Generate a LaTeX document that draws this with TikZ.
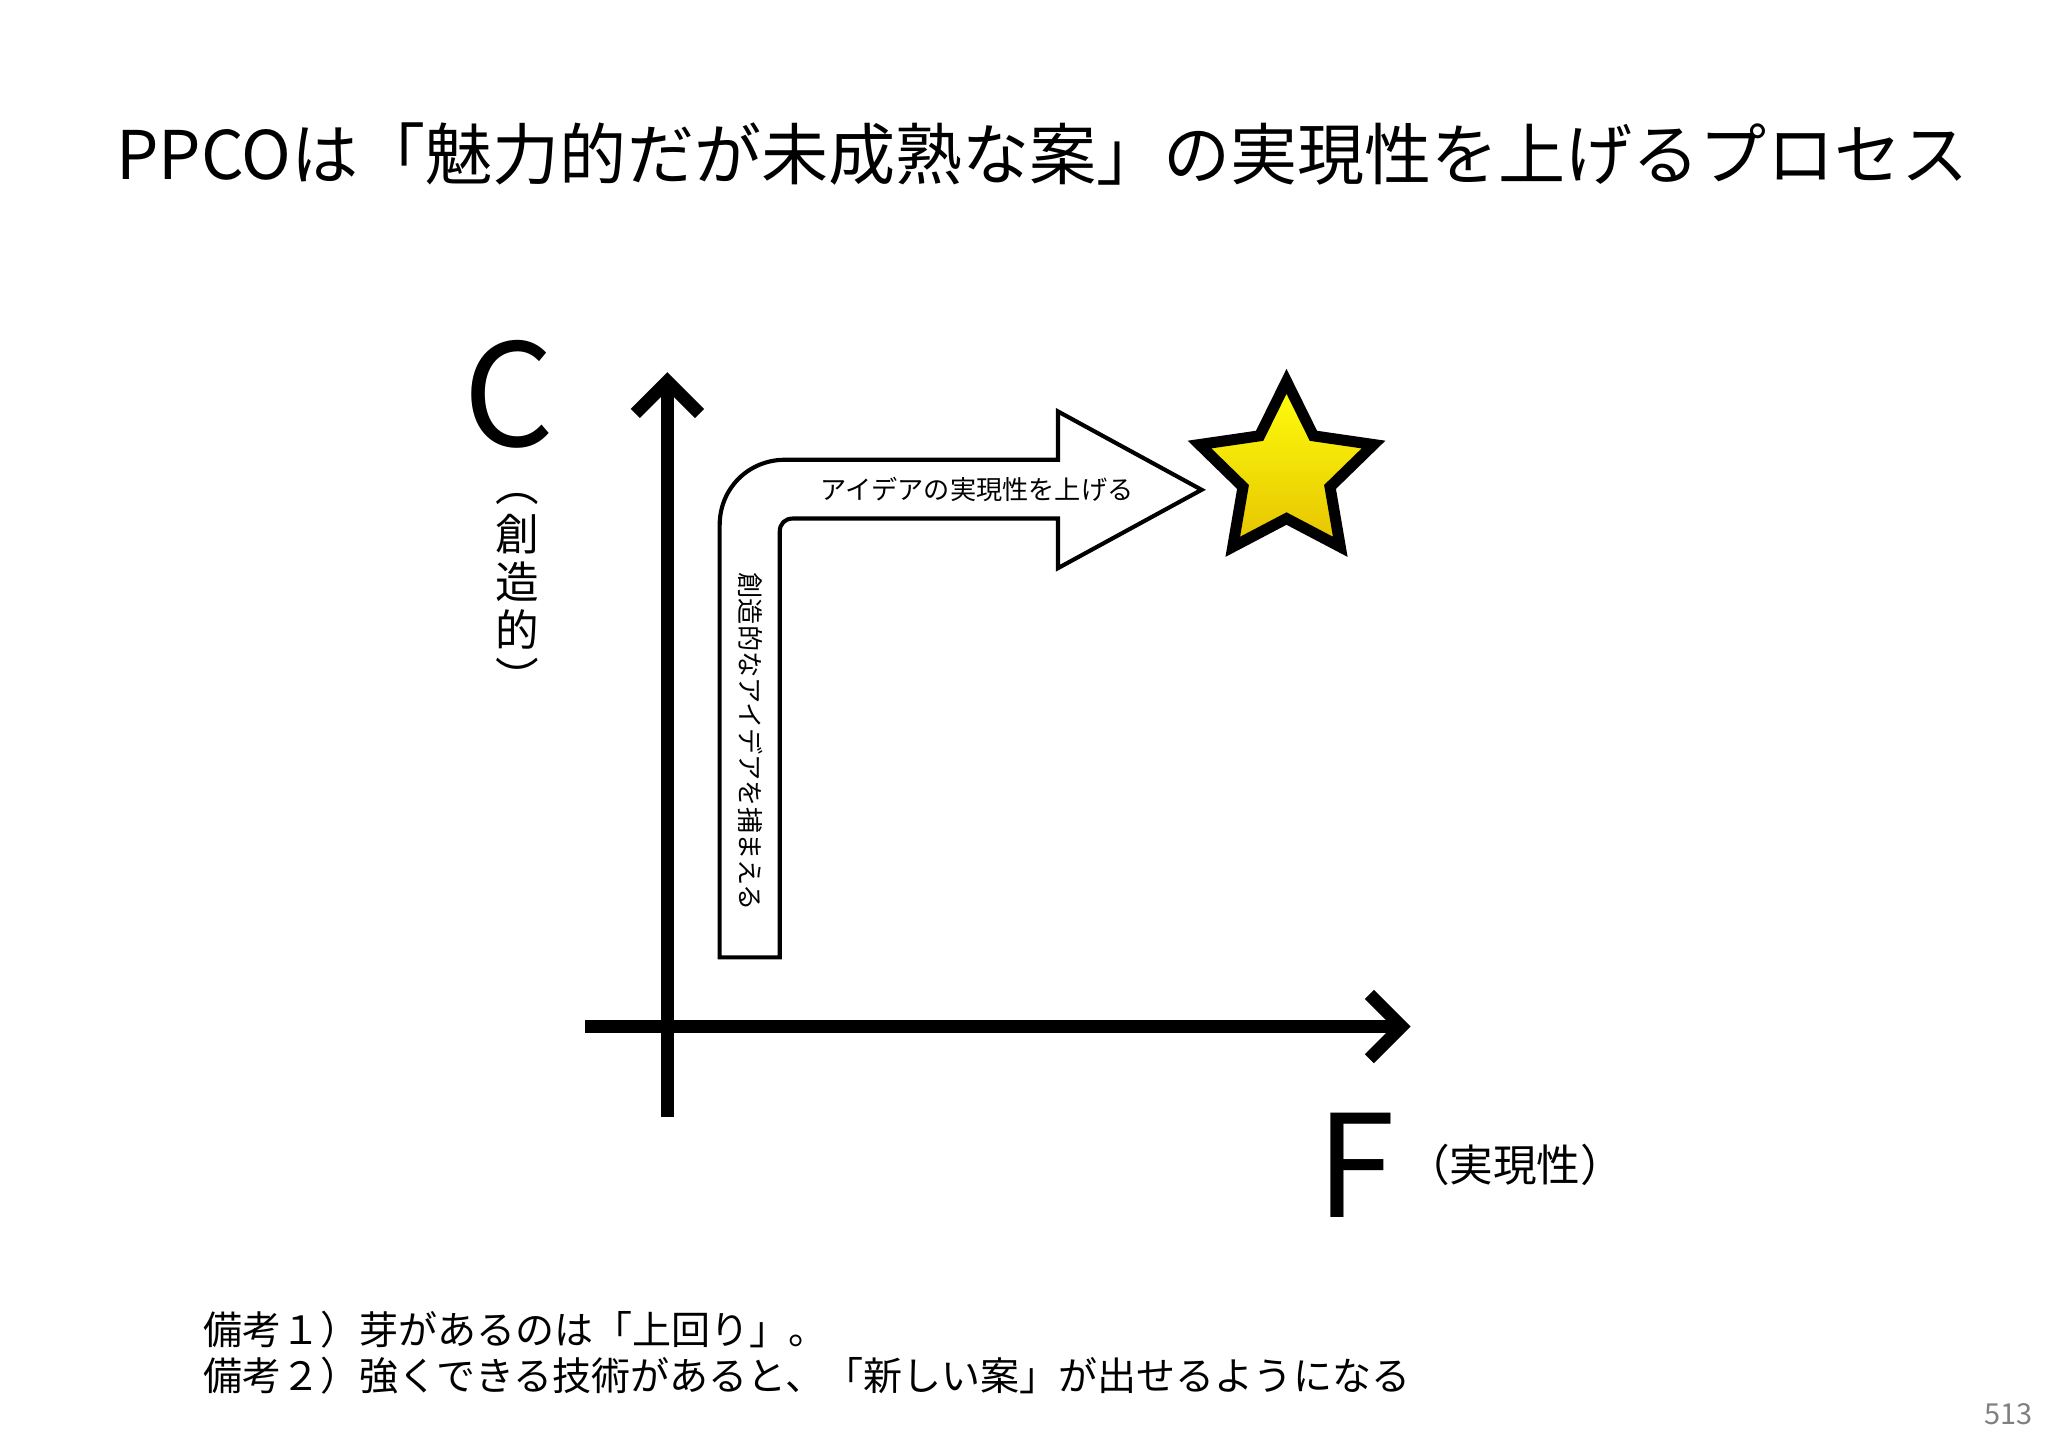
\documentclass[tikz,border=0pt]{standalone}
\usepackage{fontspec}
\setmainfont{Noto Sans CJK JP}
\usetikzlibrary{arrows.meta,shapes.geometric}
\begin{document}
\begin{tikzpicture}[x=0.01cm,y=-0.01cm,
  axis/.style={line width=2.8pt,-{Straight Barb[length=7pt,width=14pt,line width=2.8pt]}},
  lbl/.style={inner sep=0pt}]
\useasboundingbox (0,0) rectangle (1568,1109);
\node[lbl,font=\fontsize{14.6}{16}\selectfont] (title) at (798,118) {PPCOは「魅力的だが未成熟な案」の実現性を上げるプロセス};
% axes
\coordinate (vb) at (511,855); \coordinate (vt) at (511,285);
\coordinate (hl) at (448,786); \coordinate (hr) at (1080,786);
\draw[axis] (vb) -- (vt);
\draw[axis] (hl) -- (hr);
\node[lbl,font=\fontsize{31}{31}\selectfont] (C) at (390,302) {C};
\node[lbl,font=\fontsize{9.5}{10.5}\selectfont,align=center] (Clab) at (396,455)
  {︵\\創\\造\\的\\︶};
\node[lbl,font=\fontsize{31}{31}\selectfont] (F) at (1038,892) {F};
\node[lbl,font=\fontsize{9.5}{10}\selectfont] (Flab) at (1160,892) {（実現性）};
% bent arrow
\draw[line width=0.9pt,fill=white] (551,733) -- (551,402) .. controls (551,374) and (573,352) .. (601,352) -- (810,352) -- (810,315) -- (920,375) -- (810,435) -- (810,397) -- (607,397) .. controls (601,397) and (597,401) .. (597,407) -- (597,733) -- cycle;
\node[lbl,font=\fontsize{5.7}{6}\selectfont] (t1) at (748,375) {アイデアの実現性を上げる};
\node[lbl,font=\fontsize{5.7}{6}\selectfont,rotate=-90] (t2) at (575,568) {創造的なアイデアを捕まえる};
% star
\node[star,star points=5,star point ratio=2.0,minimum size=1.4cm,line width=2.4pt,draw=black,
  top color=yellow!95!white,bottom color=yellow!70!orange!90!black,inner sep=0pt] (star) at (985,362) {};
% notes
\node[lbl,anchor=west,font=\fontsize{8.5}{9}\selectfont] (n1) at (155,1018) {備考１）芽があるのは「上回り」。};
\node[lbl,anchor=west,font=\fontsize{8.5}{9}\selectfont] (n2) at (155,1053) {備考２）強くできる技術があると、「新しい案」が出せるようになる};
\node[lbl,anchor=east,font=\fontsize{6.3}{7}\selectfont,text=gray] (pg) at (1557,1083) {513};
\end{tikzpicture}
\end{document}
